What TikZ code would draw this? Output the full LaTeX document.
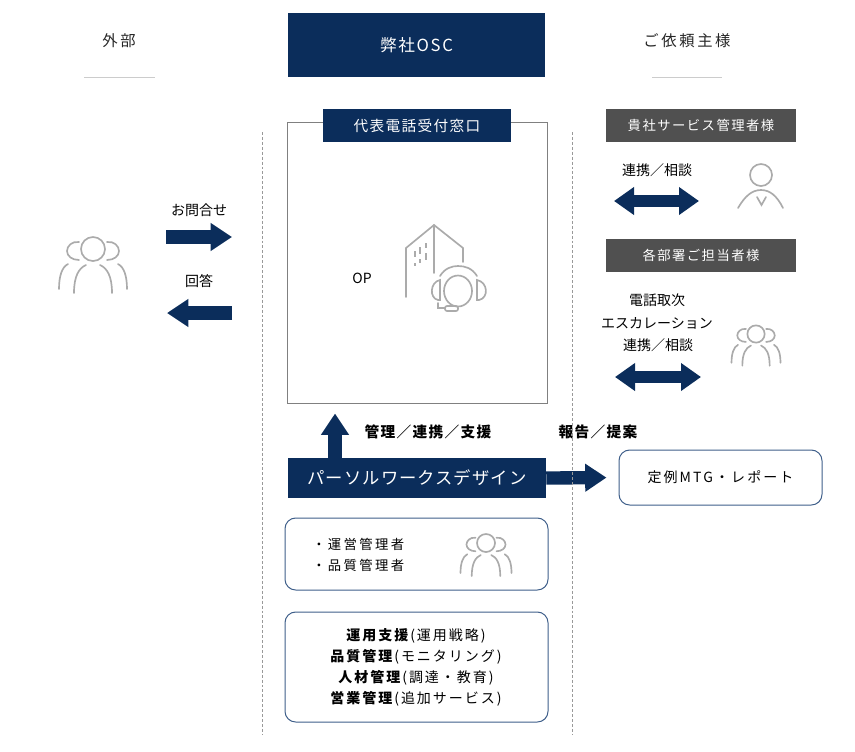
\documentclass[tikz,border=0pt]{standalone}
\usepackage{fontspec}
\usetikzlibrary{arrows.meta,shapes.geometric}
\setmainfont{Noto Sans CJK JP}[Scale=1]
\definecolor{navy}{HTML}{0B2D5B}
\definecolor{dark}{HTML}{505050}
\definecolor{icon}{HTML}{ABABAB}
\definecolor{edge}{HTML}{3F5F8A}
\newcommand{\sz}[2]{\fontsize{#1}{#1}\selectfont\addfontfeature{LetterSpace=#2}}
\tikzset{
 x=0.75pt,y=-0.75pt,
 wh/.style 2 args={minimum width=#1*0.75pt,minimum height=#2*0.75pt},
 band/.style={fill=navy,inner sep=0pt,text=white,font=\sz{11}{9}},
 grayhead/.style={fill=dark,inner sep=0pt,text=white,font=\sz{10}{11}},
 label/.style={inner sep=0pt,text=black,font=\sz{10.5}{0}},
 boldlabel/.style={inner sep=0pt,text=black,font=\sz{11}{9}\bfseries},
 head/.style={inner sep=0pt,text=black!85,font=\sz{11.5}{17}},
 roundbox/.style={draw=edge,line width=0.75pt,rounded corners=8pt,fill=white,inner sep=0pt},
 blockarrow/.style={line width=10pt,draw=navy,-{Triangle[length=16pt,width=20pt,fill=navy]}},
 blockboth/.style={line width=9pt,draw=navy,{Triangle[length=15pt,width=20pt,fill=navy]}-{Triangle[length=15pt,width=20pt,fill=navy]}},
 sep/.style={draw=gray!80,line width=0.5pt,dash pattern=on 2.2pt off 1.5pt},
 rule/.style={draw=gray!40,line width=0.75pt},
 iconline/.style={draw=icon,line width=1.25pt,line cap=round,fill=none},
 people/.pic={
  \draw[iconline] (0,0) circle[radius=12];
  \draw[iconline] (-14,-7) .. controls (-21,-8) and (-26,-3) .. (-26,2) .. controls (-26,7) and (-21,11) .. (-14,11);
  \draw[iconline] (14,-7) .. controls (21,-8) and (26,-3) .. (26,2) .. controls (26,7) and (21,11) .. (14,11);
  \draw[iconline] (-19,44) .. controls (-19,27) and (-14,19) .. (-7,16);
  \draw[iconline] (19,44) .. controls (19,27) and (14,19) .. (7,16);
  \draw[iconline] (-34,40) .. controls (-34,27) and (-31,18) .. (-25,15);
  \draw[iconline] (34,40) .. controls (34,27) and (31,18) .. (25,15);
 }
}
\begin{document}
\begin{tikzpicture}
\useasboundingbox (0,0) rectangle (855,751);
% column heads
\node[head] (outside) at (119,41) {外部};
\node[wh={257}{64},band,font=\sz{12.5}{10}] (osc) at (416.5,45) {弊社OSC};
\node[head] (client) at (687,41) {ご依頼主様};
\coordinate (ruleA) at (84,77); \coordinate (ruleB) at (155,77);
\coordinate (ruleC) at (652,77); \coordinate (ruleD) at (722,77);
\draw[rule] (ruleA) -- (ruleB);
\draw[rule] (ruleC) -- (ruleD);
% main box
\node[wh={260}{281},draw=gray,line width=0.75pt,inner sep=0pt] (opbox) at (417,262.5) {};
\node[wh={188}{33},band] (opcap) at (417,125.5) {代表電話受付窓口};
\node[label] (op) at (362,278) {OP};
% building + headset icon
\draw[iconline] (406,297) -- (406,248) -- (434,225) -- (463,248) -- (463,262);
\draw[iconline] (434,225) -- (434,273);
\draw[icon,line width=1.1pt] (415,251) -- (415,257) (415,263) -- (415,266) (420,247) -- (420,254) (420,259) -- (420,263) (426,243) -- (426,248) (426,253) -- (426,260);
\draw[iconline] (458,291) ellipse[x radius=14,y radius=15.5];
\draw[iconline] (440,280) .. controls (430,282) and (429,298) .. (438,300) -- (440,300) -- cycle;
\draw[iconline] (477,280) .. controls (488,282) and (489,298) .. (479,300) -- (477,300) -- cycle;
\draw[iconline] (440,276) .. controls (445,268) and (452,266) .. (458,266) .. controls (465,266) and (472,268) .. (477,276);
\draw[iconline] (438,303) -- (438,308) -- (445,308);
\draw[iconline,rounded corners=1.5pt] (445,306) rectangle (458,311);
% left column
\pic at (93,249) {people};
\node[label] (ask) at (199,210) {お問合せ};
\node[label] (ans) at (199,281) {回答};
\coordinate (askA) at (166,237); \coordinate (askB) at (232,237);
\coordinate (ansA) at (232,313); \coordinate (ansB) at (167,313);
\draw[blockarrow] (askA) -- (askB);
\draw[blockarrow] (ansA) -- (ansB);
% right column
\node[wh={190}{33},grayhead] (svc) at (701,125.5) {貴社サービス管理者様};
\node[wh={190}{33},grayhead] (dept) at (701,255.5) {各部署ご担当者様};
\node[label] (lk1) at (657,170) {連携／相談};
\coordinate (dblA) at (614,201); \coordinate (dblB) at (699,201);
\draw[blockboth] (dblA) -- (dblB);
\draw[iconline] (761,175) circle[radius=11];
\draw[iconline] (738,208) .. controls (745,196) and (752,190) .. (761,190) .. controls (770,190) and (777,196) .. (783,208);
\draw[iconline] (757,197) -- (761.5,205) -- (766,197);
\node[label] (tel) at (657,300) {電話取次};
\node[label] (esc) at (657,323) {エスカレーション};
\node[label] (lk2) at (658,345) {連携／相談};
\coordinate (dbcA) at (615,377); \coordinate (dbcB) at (701,377);
\draw[blockboth] (dbcA) -- (dbcB);
\pic[scale=0.72] at (756,334) {people};
% personal work design
\node[wh={258}{40},band,font=\sz{13}{6}] (pwd) at (417,478) {パーソルワークスデザイン};
\node[wh={203}{55},roundbox,font=\sz{10.5}{15}] (mtg) at (720.5,477.5) {定例MTG・レポート};
\coordinate (upFoot) at (335,458);
\draw[blockarrow,shorten >=7.5pt] (upFoot) -- (upFoot |- opbox.south);
\draw[blockarrow,shorten >=9pt] (pwd.east) -- (mtg.west);
\node[boldlabel] (mgmt) at (428,432) {管理／連携／支援};
\node[boldlabel] (rep) at (598,432) {報告／提案};
% lower boxes
\node[wh={263}{72},roundbox] (staff) at (416.5,554) {};
\node[label,font=\sz{10}{18},anchor=west] (st1) at (312,544) {・運営管理者};
\node[label,font=\sz{10}{18},anchor=west] (st2) at (312,565) {・品質管理者};
\pic[scale=0.75] at (486,543) {people};
\node[wh={263}{110},roundbox] (tasks) at (416.5,667) {};
\node[label,font=\sz{10.5}{14}] (t1) at (416,636) {\textbf{運用支援}(運用戦略)};
\node[label,font=\sz{10.5}{14}] (t2) at (416,657) {\textbf{品質管理}(モニタリング)};
\node[label,font=\sz{10.5}{14}] (t3) at (416,678) {\textbf{人材管理}(調達・教育)};
\node[label,font=\sz{10.5}{14}] (t4) at (416,699) {\textbf{営業管理}(追加サービス)};
% dashed separators
\coordinate (sepA) at (262,132); \coordinate (sepB) at (262,735);
\coordinate (sepC) at (572,132); \coordinate (sepD) at (572,735);
\draw[sep] (sepA) -- (sepB);
\draw[sep] (sepC) -- (sepD);
\end{tikzpicture}
\end{document}
